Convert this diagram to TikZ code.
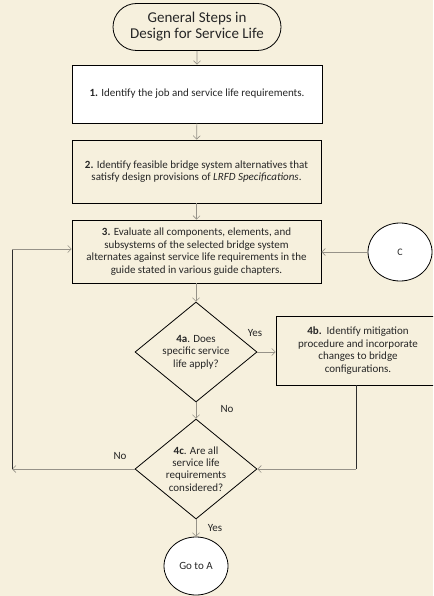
\documentclass[tikz,border=0pt]{standalone}
\usepackage{fontspec}
\setmainfont{Carlito}
\usetikzlibrary{shapes.geometric,shapes.misc,arrows.meta}
\definecolor{bg}{RGB}{246,240,221}
\definecolor{conn}{RGB}{150,146,136}
\definecolor{txt}{RGB}{38,38,38}
\definecolor{dark}{RGB}{45,45,45}
\begin{document}
\begin{tikzpicture}[x=1pt,y=1pt,
  box/.style={draw=black,line width=0.8pt,rectangle,align=center,
    font=\fontsize{11}{12.5}\selectfont,text=txt,inner sep=0pt},
  stad/.style={rounded rectangle,draw=black,line width=0.8pt,align=center,
    font=\fontsize{15}{16}\selectfont,text=txt,inner sep=0pt,
    minimum width=168,minimum height=47},
  dia/.style={diamond,draw=black,line width=0.8pt,aspect=1.2,inner sep=0pt,
    minimum width=122,minimum height=100,align=center,
    font=\fontsize{11}{12.4}\selectfont,text=txt},
  circ/.style={ellipse,draw=black,line width=0.8pt,fill=white,inner sep=0pt,
    minimum width=64,minimum height=58,text=txt},
  arr/.style={draw=conn,line width=0.6pt,-{Straight Barb[length=3.5pt,width=7pt]}},
  seg/.style={draw=dark,line width=1pt},
  lbl/.style={font=\fontsize{11}{13}\selectfont,text=txt}]
\fill[bg] (0,0) rectangle (433,-596);
\useasboundingbox (0,0) rectangle (433,-596);
\clip (0,0) rectangle (433,-596);

\node[stad] (start) at (197,-27) {General Steps in\\Design for Service Life};
\node[box,fill=white,minimum width=250,minimum height=58] (s1) at (197,-94)
  {\textbf{1.} Identify the job and service life requirements.};
\node[box,fill=bg,minimum width=249,minimum height=63] (s2) at (196.5,-171.5)
  {\textbf{2.} Identify feasible bridge system alternatives that\\satisfy design provisions of \textit{LRFD Specifications}.};
\node[box,fill=bg,minimum width=249,minimum height=63] (s3) at (196.5,-251.5)
  {\textbf{3.} Evaluate all components, elements, and\\subsystems of the selected bridge system\\alternates against service life requirements in the\\guide stated in various guide chapters.};
\node[circ,font=\fontsize{10}{12}\selectfont] (C) at (400,-252) {C};
\node[dia] (d4a) at (196,-352) {\textbf{4a}. Does\\specific service\\life apply?};
\node[box,fill=bg,minimum width=164,minimum height=69] (s4b) at (358,-350.5)
  {\textbf{4b.}\ \ Identify mitigation\\procedure and incorporate\\changes to bridge\\configurations.};
\node[dia] (d4c) at (196,-469) {\textbf{4c}. Are all\\service life\\requirements\\considered?};
\node[circ,font=\fontsize{11}{13}\selectfont] (A) at (196,-566) {Go to A};

\coordinate (bdown) at (356,-469);
\coordinate (lbot) at (12,-469);
\coordinate (ltop) at (12,-249);

\draw[arr] (start) -- (s1);
\draw[arr] (s1) -- (s2);
\draw[arr] (s2) -- (s3);
\draw[arr] (s3.south -| d4a.north) -- (d4a.north);
\draw[arr] (C.west) -- (C.west -| s3.east);
\draw[arr] (d4a.east) -- (d4a.east -| s4b.west);
\draw[arr] (d4a.south) -- (d4c.north);
\draw[seg] (s4b.south -| bdown) -- (bdown);
\draw[arr] (bdown) -- (d4c.east);
\draw[arr] (d4c.west) -- (lbot);
\draw[seg] (lbot) -- (ltop);
\draw[arr] (ltop) -- (ltop -| s3.west);
\draw[arr] (d4c.south) -- (A.north);

\node[lbl] (y1) at (255,-333) {Yes};
\node[lbl] (n1) at (227,-409) {No};
\node[lbl] (n2) at (120,-456) {No};
\node[lbl] (y2) at (215,-528) {Yes};
\end{tikzpicture}
\end{document}
